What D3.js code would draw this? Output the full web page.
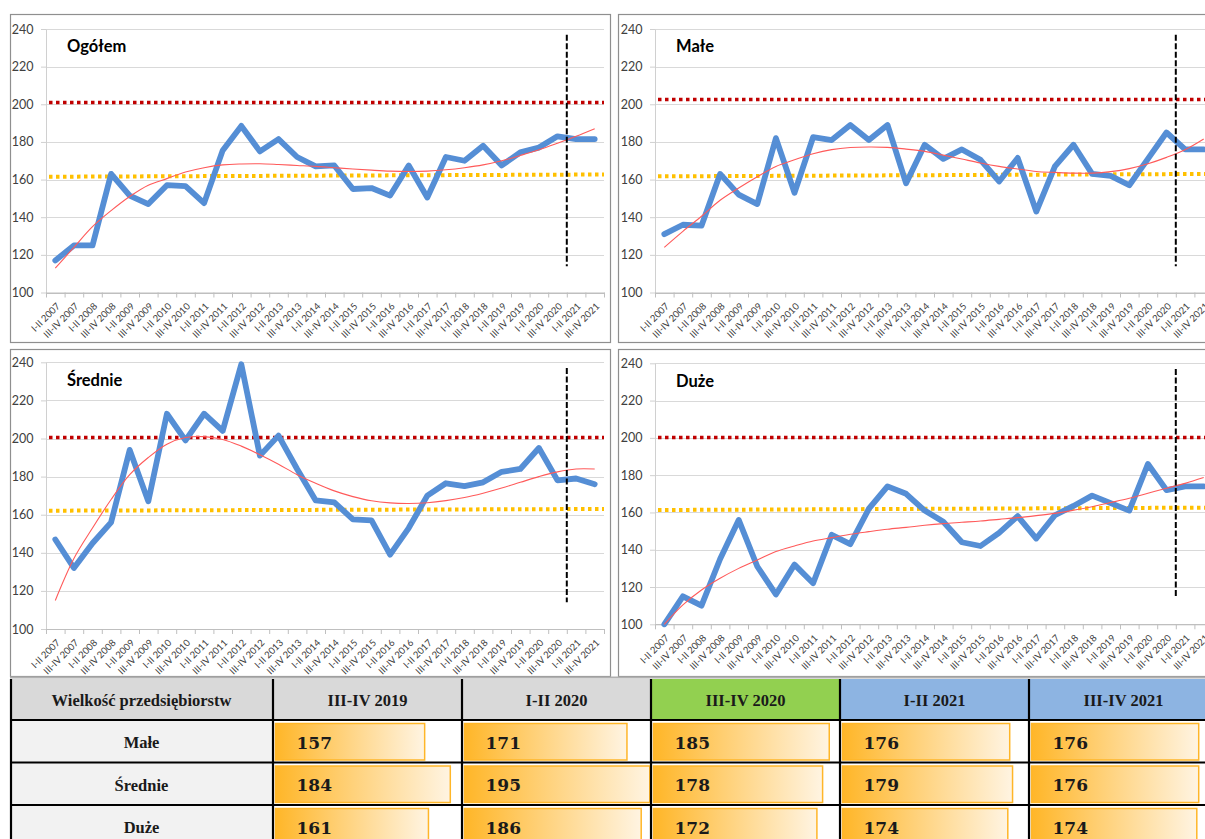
<!DOCTYPE html>
<html>
<head>
<meta charset="utf-8">
<script src="https://cdn.jsdelivr.net/npm/d3@7"></script>
<style>
  body { margin: 0; background: #fff; overflow: hidden; }
  svg { display: block; }
</style>
</head>
<body>
<svg id="chart" width="1205" height="839"></svg>
<script>
// categories (half-year periods)
const periods = [
  "I-II 2007", "III-IV 2007", "I-II 2008", "III-IV 2008", "I-II 2009", "III-IV 2009",
  "I-II 2010", "III-IV 2010", "I-II 2011", "III-IV 2011", "I-II 2012", "III-IV 2012",
  "I-II 2013", "III-IV 2013", "I-II 2014", "III-IV 2014", "I-II 2015", "III-IV 2015",
  "I-II 2016", "III-IV 2016", "I-II 2017", "III-IV 2017", "I-II 2018", "III-IV 2018",
  "I-II 2019", "III-IV 2019", "I-II 2020", "III-IV 2020", "I-II 2021", "III-IV 2021"
];

// series values
const ogolem  = [117, 125, 125, 163, 151.5, 147, 157, 156.5, 147.5, 175.5, 188.5, 175, 181.5, 172, 167, 167.5,
                 155, 155.5, 151.5, 167.5, 150.5, 172, 170, 178, 167.5, 174.5, 177, 183, 181.5, 181.5];
const male    = [131, 136, 135.5, 163, 152, 147, 182, 153, 182.5, 181, 189, 181, 189, 158, 178.5, 171,
                 176, 170.5, 159, 171.5, 143, 167, 178.5, 163, 162, 157, 171, 185, 176, 176];
const srednie = [147, 132, 145, 156, 194, 167, 213, 199, 213, 204, 239, 191, 201.5, 184, 167.5, 166.5,
                 157.5, 157, 139, 153, 170, 176.5, 175, 177, 182.5, 184, 195, 178, 179, 176];
const duze    = [100, 115, 110, 135, 156, 131, 116, 132, 122, 148, 143, 162, 174, 170, 161, 155,
                 144, 142, 149, 158, 146, 158.5, 163.5, 169, 165, 161, 186, 172, 174, 174];

// polynomial trend lines as drawn in the picture
const trendOgolem  = [113, 124, 135, 143.5, 151, 157, 160.5, 164, 166.3, 167.8, 168.3, 168.4, 168, 167.5, 167, 166.3,
                      165.6, 165, 164.5, 164.3, 164.5, 165.2, 166.3, 167.8, 170, 172.8, 175.8, 179.3, 183, 187];
const trendMale    = [124, 132.5, 140.5, 149, 155.5, 161.5, 167, 170.5, 173.7, 175.9, 177, 177.3, 177.1, 176.2, 175, 173,
                      170.9, 168.8, 167, 165.6, 164.3, 163.8, 163.4, 163.4, 164.2, 165.8, 168.4, 171.8, 175.9, 181.6];
const trendSrednie = [115, 137, 153, 168, 181, 190, 197, 200.5, 201, 199.5, 196, 191.5, 186.5, 181, 176.5, 172.5,
                      169.5, 167.3, 166.2, 165.9, 166.3, 167.4, 169, 171.3, 174, 177, 180, 182.5, 184, 184];
const trendDuze    = [100, 110.4, 118.4, 124.7, 130, 134.5, 139, 142, 144.7, 146.5, 148.3, 149.7, 151, 152, 153.1, 154,
                      154.7, 155.4, 156.3, 157.2, 158.3, 159.5, 161.2, 163.1, 165.3, 167.6, 170.3, 173, 175.6, 178.7];

// reference levels per panel (Ogółem, Małe, Średnie, Duże)
const panelTitles = ["Ogółem", "Małe", "Średnie", "Duże"];
const redLevels   = [201, 202.5, 200.5, 200.2];
const yellowStart = [161.5, 161.7, 162.1, 161.3];
const yellowEnd   = [162.7, 163, 163, 162.6];
const forecastStart = "I-II 2021";
const forecastSpan  = [114, 237];
const yTicks = [100, 120, 140, 160, 180, 200, 220, 240];

// table
const tableColumns = ["III-IV 2019", "I-II 2020", "III-IV 2020", "I-II 2021", "III-IV 2021"];
const tableRows    = ["Małe", "Średnie", "Duże"];
const tableMale    = [157, 171, 185, 176, 176];
const tableSrednie = [184, 195, 178, 179, 176];
const tableDuze    = [161, 186, 172, 174, 174];

const svg = d3.select("#chart");
const chartFont = "Lato, 'Open Sans', sans-serif";

const panels = [
  { values: ogolem,  trend: trendOgolem,  box: [10, 14, 600, 328],  plot: [46, 29, 558, 263.5] },
  { values: male,    trend: trendMale,    box: [618, 14, 600, 328], plot: [655, 29, 558, 263.5] },
  { values: srednie, trend: trendSrednie, box: [10, 349, 600, 327], plot: [46, 362.3, 558, 266.7] },
  { values: duze,    trend: trendDuze,    box: [618, 349, 600, 327], plot: [655, 363.3, 558, 261] }
];

panels.forEach((p, k) => drawPanel(p, k));

function drawPanel(p, k) {
  const [bx, by, bw, bh] = p.box;
  const [L, T, W, H] = p.plot;
  const g = svg.append("g");

  g.append("rect")
    .attr("x", bx + 0.5).attr("y", by + 0.5)
    .attr("width", bw).attr("height", bh)
    .attr("fill", "#fff")
    .attr("stroke", "#8f8f8f")
    .attr("stroke-width", 1.2);

  const x = d3.scaleBand().domain(periods).range([L, L + W]);
  const xi = d3.scaleLinear().domain([0, periods.length]).range([L, L + W]);
  const y = d3.scaleLinear().domain([100, 240]).range([T + H, T]);
  const cx = d => x(d) + x.bandwidth() / 2;

  // gridlines
  g.append("g")
    .selectAll("line")
    .data(yTicks)
    .enter()
    .append("line")
    .attr("x1", L).attr("x2", L + W)
    .attr("y1", d => Math.round(y(d)) + 0.5)
    .attr("y2", d => Math.round(y(d)) + 0.5)
    .attr("stroke", d => d === 100 ? "#bfbfbf" : "#d9d9d9")
    .attr("stroke-width", 1);

  // y axis
  const yAxis = g.append("g")
    .attr("transform", `translate(${L},0)`)
    .call(d3.axisLeft(y).tickValues(yTicks).tickSize(5).tickSizeOuter(0).tickPadding(7.5));
  yAxis.select(".domain").attr("stroke", "#d0d0d0");
  yAxis.selectAll(".tick line").attr("stroke", "#d0d0d0");
  yAxis.selectAll("text")
    .attr("font-family", chartFont)
    .attr("font-size", 12.5)
    .attr("fill", "#404040");

  // x axis: ticks on category boundaries
  const xAxis = g.append("g")
    .attr("transform", `translate(0,${T + H})`)
    .call(d3.axisBottom(xi).tickValues(d3.range(periods.length + 1)).tickSize(5).tickSizeOuter(0).tickFormat(""));
  xAxis.select(".domain").attr("stroke", "#bfbfbf");
  xAxis.selectAll(".tick line").attr("stroke", "#bfbfbf");

  g.append("g")
    .selectAll("text")
    .data(periods)
    .enter()
    .append("text")
    .attr("transform", d => `translate(${cx(d) + 3},${T + H + 12}) rotate(-45)`)
    .attr("text-anchor", "end")
    .attr("dy", "0.35em")
    .attr("font-family", chartFont)
    .attr("font-size", 9.5)
    .attr("fill", "#404040")
    .text(d => d);

  // reference levels
  g.append("line")
    .attr("x1", L + 3).attr("x2", L + W)
    .attr("y1", y(redLevels[k])).attr("y2", y(redLevels[k]))
    .attr("stroke", "#c00000")
    .attr("stroke-width", 3.5)
    .attr("stroke-dasharray", "3.5,3.5");

  g.append("line")
    .attr("x1", L + 3).attr("x2", L + W)
    .attr("y1", y(yellowStart[k])).attr("y2", y(yellowEnd[k]))
    .attr("stroke", "#ffc000")
    .attr("stroke-width", 4)
    .attr("stroke-dasharray", "3.5,3.5");

  // data line
  const line = d3.line()
    .x((d, i) => cx(periods[i]))
    .y(d => y(d));

  g.append("path")
    .datum(p.values)
    .attr("d", line)
    .attr("fill", "none")
    .attr("stroke", "#558ed5")
    .attr("stroke-width", 5.8)
    .attr("stroke-linejoin", "round")
    .attr("stroke-linecap", "round");

  // trend line
  g.append("path")
    .datum(p.trend)
    .attr("d", line.curve(d3.curveCatmullRom))
    .attr("fill", "none")
    .attr("stroke", "#ff5a5a")
    .attr("stroke-width", 1.1);

  // forecast marker
  g.append("line")
    .attr("x1", x(forecastStart)).attr("x2", x(forecastStart))
    .attr("y1", y(forecastSpan[1])).attr("y2", y(forecastSpan[0]))
    .attr("stroke", "#000")
    .attr("stroke-width", 2)
    .attr("stroke-dasharray", "6,2.5");

  g.append("text")
    .attr("x", L + 21)
    .attr("y", T + 17.5)
    .attr("dy", "0.35em")
    .attr("font-family", chartFont)
    .attr("font-weight", "bold")
    .attr("font-size", 16.5)
    .attr("fill", "#000")
    .text(panelTitles[k]);
}

// ---------- table ----------
const tableValues = [tableMale, tableSrednie, tableDuze];
const headerFills = ["#d9d9d9", "#d9d9d9", "#92d050", "#8db4e2", "#8db4e2"];
const tblLeft = 10, firstColRight = 273, colW = 189;
const headTop = 679, headBottom = 720, rowH = 42.5;

const col = d3.scaleBand().domain(tableColumns).range([firstColRight, firstColRight + colW * tableColumns.length]);
const row = d3.scaleBand().domain(tableRows).range([headBottom, headBottom + rowH * tableRows.length]);
const barLen = d3.scaleLinear().domain([0, 200]).range([0, 190]);

const defs = svg.append("defs");
const grad = defs.append("linearGradient").attr("id", "barGrad");
grad.append("stop").attr("offset", "0%").attr("stop-color", "#ffb628");
grad.append("stop").attr("offset", "100%").attr("stop-color", "#fff4e2");

const tbl = svg.append("g");

tbl.append("line")
  .attr("x1", tblLeft).attr("x2", 1205)
  .attr("y1", 677.5).attr("y2", 677.5)
  .attr("stroke", "#b0b0b0").attr("stroke-width", 2);

// header
tbl.append("rect")
  .attr("x", tblLeft).attr("y", headTop)
  .attr("width", firstColRight - tblLeft).attr("height", headBottom - headTop)
  .attr("fill", "#d9d9d9");
tbl.append("text")
  .attr("x", (tblLeft + firstColRight) / 2).attr("y", (headTop + headBottom) / 2 + 1)
  .attr("dy", "0.35em").attr("text-anchor", "middle")
  .attr("font-family", "'Liberation Serif', serif").attr("font-weight", "bold").attr("font-size", 16.5)
  .attr("fill", "#1a1a1a")
  .text("Wielkość przedsiębiorstw");

tbl.selectAll(".hcell")
  .data(tableColumns)
  .enter()
  .append("rect")
  .attr("class", "hcell")
  .attr("x", d => col(d)).attr("y", headTop)
  .attr("width", col.bandwidth()).attr("height", headBottom - headTop)
  .attr("fill", (d, i) => headerFills[i]);

tbl.selectAll(".htext")
  .data(tableColumns)
  .enter()
  .append("text")
  .attr("class", "htext")
  .attr("x", d => col(d) + col.bandwidth() / 2).attr("y", (headTop + headBottom) / 2 + 1)
  .attr("dy", "0.35em").attr("text-anchor", "middle")
  .attr("font-family", "'Liberation Serif', serif").attr("font-weight", "bold").attr("font-size", 16.5)
  .attr("fill", "#1a1a1a")
  .text(d => d);

// body rows
tableRows.forEach((r, ri) => {
  const top = row(r);
  tbl.append("rect")
    .attr("x", tblLeft).attr("y", top)
    .attr("width", firstColRight - tblLeft).attr("height", row.bandwidth())
    .attr("fill", "#f2f2f2");
  tbl.append("text")
    .attr("x", (tblLeft + firstColRight) / 2).attr("y", top + row.bandwidth() / 2 + 1)
    .attr("dy", "0.35em").attr("text-anchor", "middle")
    .attr("font-family", "'Liberation Serif', serif").attr("font-weight", "bold").attr("font-size", 16.5)
    .attr("fill", "#1a1a1a")
    .text(r);

  tableColumns.forEach((c, ci) => {
    const v = tableValues[ri][ci];
    tbl.append("rect")
      .attr("x", col(c) + 2.5).attr("y", top + 3.5)
      .attr("width", barLen(v)).attr("height", row.bandwidth() - 6)
      .attr("fill", "url(#barGrad)")
      .attr("stroke", "#ffb628")
      .attr("stroke-width", 1.5);
    tbl.append("text")
      .attr("x", col(c) + 23.5).attr("y", top + row.bandwidth() / 2 + 1.5)
      .attr("dy", "0.35em")
      .attr("font-family", "'DejaVu Serif', serif").attr("font-weight", "bold").attr("font-size", 17)
      .attr("fill", "#1a1a1a")
      .text(v);
  });
});

// grid lines of the table
const rowEdges = [headBottom, headBottom + rowH, headBottom + rowH * 2];
tbl.selectAll(".hline")
  .data(rowEdges)
  .enter()
  .append("line")
  .attr("x1", tblLeft).attr("x2", 1205)
  .attr("y1", d => d).attr("y2", d => d)
  .attr("stroke", "#000").attr("stroke-width", 2.2);

const colEdges = [tblLeft + 1, firstColRight].concat(tableColumns.map(c => col(c) + colW));
tbl.selectAll(".vline")
  .data(colEdges)
  .enter()
  .append("line")
  .attr("x1", d => d).attr("x2", d => d)
  .attr("y1", headTop).attr("y2", 839)
  .attr("stroke", "#000").attr("stroke-width", 2.2);
</script>
</body>
</html>
